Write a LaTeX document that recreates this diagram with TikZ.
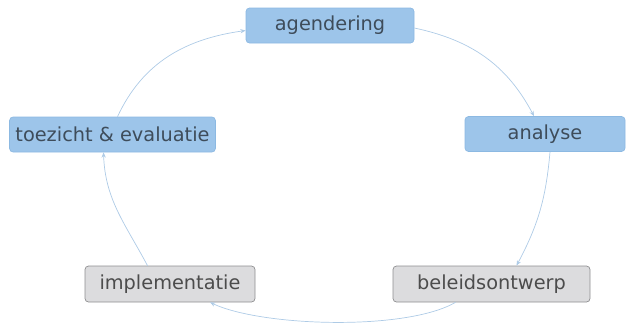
\documentclass[tikz,border=0pt]{standalone}
\usepackage{fontspec}
\setmainfont{DejaVu Sans}
\usepackage{xcolor}
\usetikzlibrary{arrows.meta}

\definecolor{stageblue}{HTML}{9DC5EA}
\definecolor{stageblueline}{HTML}{8CB9E2}
\definecolor{stagegrey}{HTML}{DCDCDE}
\definecolor{stagegreyline}{HTML}{8E8E90}
\definecolor{stagetext}{HTML}{3E4C5A}
\definecolor{cyclelink}{HTML}{AECBE6}

\tikzset{
  bluestage/.style={draw=stageblueline, fill=stageblue, rounded corners=2pt,
    minimum height=0.7cm, text=stagetext, font=\fontsize{11}{13}\selectfont},
  greystage/.style={draw=stagegreyline, fill=stagegrey, rounded corners=2pt,
    minimum height=0.72cm, text=black!70, font=\fontsize{11}{13}\selectfont},
  cyclearrow/.style={draw=cyclelink, line width=0.4pt, -{Stealth[length=3pt,width=2.4pt]}}
}

\begin{document}
\begin{tikzpicture}[scale=1]
\useasboundingbox (0,0) rectangle (12.54,6.54);

% Stages
\node[bluestage, minimum width=3.36cm] (agenda) at (6.60,6.03) {agendering};
\node[bluestage, minimum width=3.2cm] (analyse) at (10.90,3.86) {analyse};
\node[greystage, minimum width=3.94cm] (ontwerp) at (9.83,0.86) {beleidsontwerp};
\node[greystage, minimum width=3.4cm] (implem) at (3.40,0.86) {implementatie};
\node[bluestage, minimum width=4.1cm] (toezicht) at (2.25,3.85) {toezicht \& evaluatie};

% Cycle
\draw[cyclearrow] ([yshift=-0.05cm]agenda.east) to[out=-12,in=118] ([xshift=-0.22cm]analyse.north);
\draw[cyclearrow] ([xshift=0.1cm]analyse.south) to[out=-95,in=62] ([xshift=0.5cm]ontwerp.north);
\draw[cyclearrow] ([xshift=-0.72cm]ontwerp.south) to[out=-150,in=-25,looseness=0.6] ([xshift=0.8cm]implem.south);
\draw[cyclearrow] ([xshift=-0.45cm]implem.north) to[out=118,in=-88] ([xshift=-0.18cm]toezicht.south);
\draw[cyclearrow] ([xshift=0.1cm]toezicht.north) to[out=65,in=188] ([yshift=-0.1cm]agenda.west);
\end{tikzpicture}
\end{document}
